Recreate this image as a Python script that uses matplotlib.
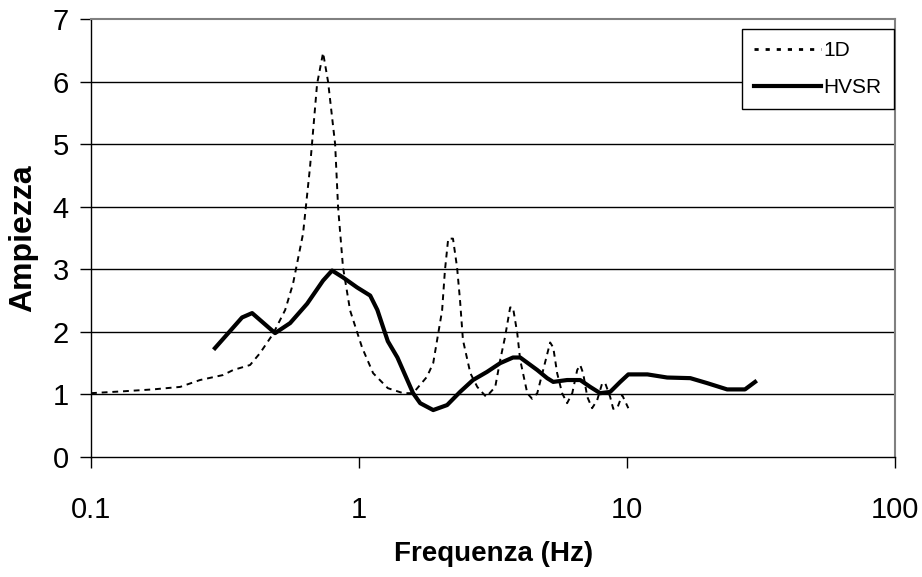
"""
Confronto tra funzione di trasferimento 1D e rapporto HVSR.
"""
import matplotlib
matplotlib.use("Agg")
import matplotlib.pyplot as plt
from matplotlib.ticker import FixedLocator, NullLocator

plt.rcParams['font.family'] = ['Liberation Sans', 'DejaVu Sans']

# curva 1D (frequenza in Hz, ampiezza)
freq_1d = [0.1, 0.132, 0.17, 0.215, 0.255, 0.311, 0.339, 0.392, 0.427, 0.478,
           0.53, 0.567, 0.618, 0.656, 0.697, 0.734, 0.766, 0.814, 0.835, 0.871,
           0.926, 1.026, 1.128, 1.28, 1.46, 1.59, 1.79, 1.89, 2.04, 2.09,
           2.15, 2.24, 2.32, 2.38, 2.44, 2.60, 2.76, 2.98, 3.22, 3.36,
           3.50, 3.66, 3.75, 3.89, 3.99, 4.24, 4.42, 4.62, 4.86, 5.16,
           5.30, 5.48, 5.72, 5.97, 6.24, 6.51, 6.68, 6.85, 7.10, 7.40,
           7.73, 8.07, 8.28, 8.64, 8.87, 9.18, 9.58, 10.1]
amp_1d = [1.02, 1.05, 1.08, 1.12, 1.23, 1.31, 1.39, 1.47, 1.66, 1.97,
          2.35, 2.77, 3.57, 4.63, 5.96, 6.46, 6.0, 5.0, 3.99, 3.03,
          2.34, 1.75, 1.34, 1.1, 1.02, 1.02, 1.28, 1.5, 2.34, 2.98,
          3.49, 3.49, 3.03, 2.5, 1.87, 1.34, 1.12, 0.96, 1.12, 1.55,
          1.91, 2.39, 2.39, 1.98, 1.55, 1.02, 0.93, 1.02, 1.39, 1.83,
          1.75, 1.34, 1.02, 0.86, 1.02, 1.39, 1.47, 1.34, 0.96, 0.78,
          0.91, 1.18, 1.18, 0.96, 0.77, 0.78, 0.99, 0.78]

# curva HVSR
freq_hvsr = [0.29, 0.366, 0.399, 0.486, 0.553, 0.64, 0.734, 0.793, 0.871, 0.983,
             1.10, 1.17, 1.23, 1.28, 1.39, 1.59, 1.69, 1.89, 2.13, 2.38,
             2.66, 3.0, 3.36, 3.75, 3.99, 4.62, 5.03, 5.30, 5.97, 6.68,
             7.28, 7.93, 8.64, 9.42, 10.1, 11.9, 14.1, 17.2, 19.9, 23.6,
             27.5, 30.0]
amp_hvsr = [1.74, 2.23, 2.30, 1.98, 2.14, 2.45, 2.82, 2.98, 2.87, 2.71,
            2.58, 2.35, 2.07, 1.85, 1.59, 1.02, 0.86, 0.75, 0.83, 1.04,
            1.23, 1.36, 1.50, 1.59, 1.59, 1.39, 1.26, 1.20, 1.23, 1.23,
            1.12, 1.02, 1.04, 1.20, 1.32, 1.32, 1.27, 1.26, 1.18, 1.08,
            1.08, 1.2]

x_ticks = [0.1, 1, 10, 100]
x_labels = ['0.1', '1', '10', '100']
y_ticks = [0, 1, 2, 3, 4, 5, 6, 7]


def main():
    fig = plt.figure(figsize=(9.22, 5.77), dpi=100)
    ax = fig.add_axes([0.0987, 0.208, 0.8723, 0.759])

    for y in y_ticks[1:-1]:
        ax.axhline(y, color='black', lw=1.0, zorder=1)

    ax.plot(freq_1d, amp_1d, color='black', lw=1.4,
            linestyle=(0, (3, 2.5)), label='1D', zorder=3)
    ax.plot(freq_hvsr, amp_hvsr, color='black', lw=3.0,
            solid_joinstyle='round', label='HVSR', zorder=4)

    ax.set_xscale('log')
    ax.set_xlim(0.1, 100)
    ax.set_ylim(0, 7)
    ax.xaxis.set_major_locator(FixedLocator(x_ticks))
    ax.xaxis.set_minor_locator(NullLocator())
    ax.set_xticklabels(x_labels)
    ax.set_yticks(y_ticks)

    ax.tick_params(axis='both', direction='out', length=8, width=1,
                   labelsize=21, color='black')
    ax.tick_params(axis='x', pad=20)
    ax.tick_params(axis='y', pad=8)

    for side in ['top', 'right']:
        ax.spines[side].set_color('#808080')
        ax.spines[side].set_linewidth(1.5)
    for side in ['left', 'bottom']:
        ax.spines[side].set_color('black')
        ax.spines[side].set_linewidth(1.0)

    ax.set_xlabel('Frequenza (Hz)', fontsize=20, fontweight='bold', labelpad=12)
    ax.set_ylabel('Ampiezza', fontsize=23, fontweight='bold', labelpad=10)

    handles, labels = ax.get_legend_handles_labels()
    leg = ax.legend(handles, labels, loc='upper right',
                    bbox_to_anchor=(0.998, 0.978), borderaxespad=0,
                    fontsize=15, handlelength=3.2, handletextpad=0.1,
                    fancybox=False, framealpha=1, edgecolor='black',
                    borderpad=0.6, labelspacing=0.85)
    leg.get_frame().set_linewidth(1.0)
    leg.get_lines()[0].set_linestyle((0, (1.5, 2.5)))
    leg.get_lines()[0].set_linewidth(2.0)

    fig.savefig('out.png', dpi=100)


if __name__ == "__main__":
    main()
